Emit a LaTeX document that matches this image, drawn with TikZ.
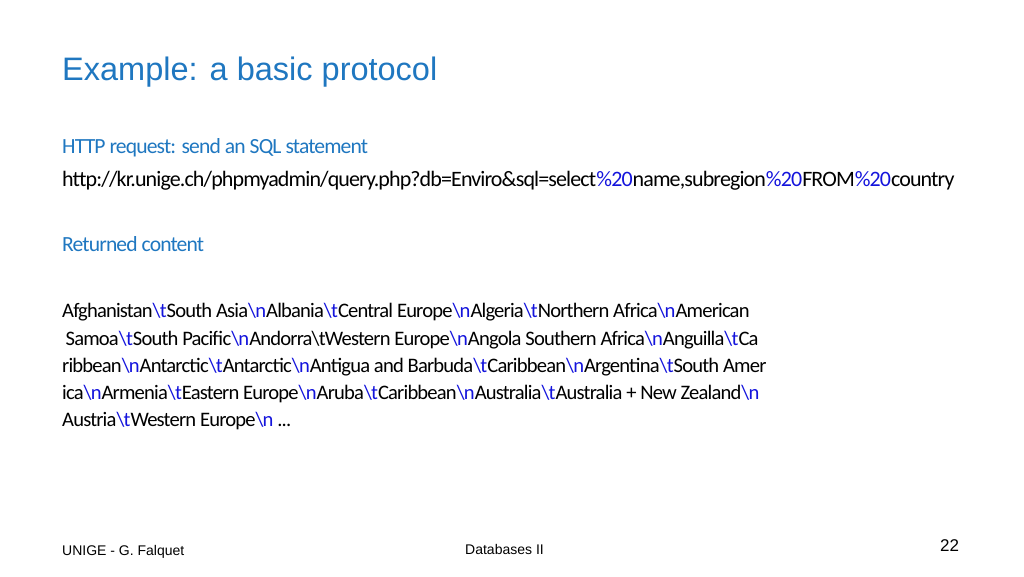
\documentclass[tikz,border=0pt]{standalone}
\usepackage{fontspec}
\setmainfont{Carlito}
\newfontfamily\arial{Liberation Sans}
\newfontfamily\calcond[LetterSpace=-4]{Carlito}
\definecolor{ttl}{RGB}{31,119,192}
\definecolor{esc}{RGB}{20,20,220}
\newcommand{\ET}{\textcolor{esc}{\textbackslash t}}
\newcommand{\EN}{\textcolor{esc}{\textbackslash n}}
\newcommand{\EP}{\textcolor{esc}{\%20}}
\begin{document}
\begin{tikzpicture}[x=1pt,y=-1pt,
  body/.style={anchor=base west,inner sep=0,font=\calcond\fontsize{20.6}{24}\selectfont},
  foot/.style={anchor=base west,inner sep=0,font=\arial\fontsize{14}{16}\selectfont}]
\useasboundingbox (0,0) rectangle (1024,576);
\node[anchor=base west,inner sep=0,text=ttl,font=\arial\fontsize{32.5}{38}\selectfont] (title) at (62,80) {Example: a basic protocol};
\node[body,text=ttl,font=\calcond\fontsize{21.6}{24}\selectfont] (h1) at (62,153) {HTTP request: send an SQL statement};
\node[body,font=\calcond\fontsize{22}{24}\selectfont] (url) at (62,186) {http://kr.unige.ch/phpmyadmin/query.php?db=Enviro\&sql=select\EP name,subregion\EP FROM\EP country};
\node[body,text=ttl,font=\calcond\fontsize{21.6}{24}\selectfont] (h2) at (62,251) {Returned content};
\node[body] (l1) at (62,317) {Afghanistan\ET South Asia\EN Albania\ET Central Europe\EN Algeria\ET Northern Africa\EN American};
\node[body] (l2) at (62,345) {\,Samoa\ET South Pacific\EN Andorra\textbackslash tWestern Europe\EN Angola Southern Africa\EN Anguilla\ET Ca};
\node[body] (l3) at (62,372) {ribbean\EN Antarctic\ET Antarctic\EN Antigua and Barbuda\ET Caribbean\EN Argentina\ET South Amer};
\node[body] (l4) at (62,399) {ica\EN Armenia\ET Eastern Europe\EN Aruba\ET Caribbean\EN Australia\ET Australia + New Zealand\EN};
\node[body] (l5) at (62,426) {Austria\ET Western Europe\EN\ ...};
\node[foot] (f1) at (62,555) {UNIGE - G. Falquet};
\node[foot] (f2) at (465,554) {Databases II};
\node[anchor=base west,inner sep=0,font=\arial\fontsize{17}{20}\selectfont] (f3) at (940,551) {22};
\end{tikzpicture}
\end{document}
